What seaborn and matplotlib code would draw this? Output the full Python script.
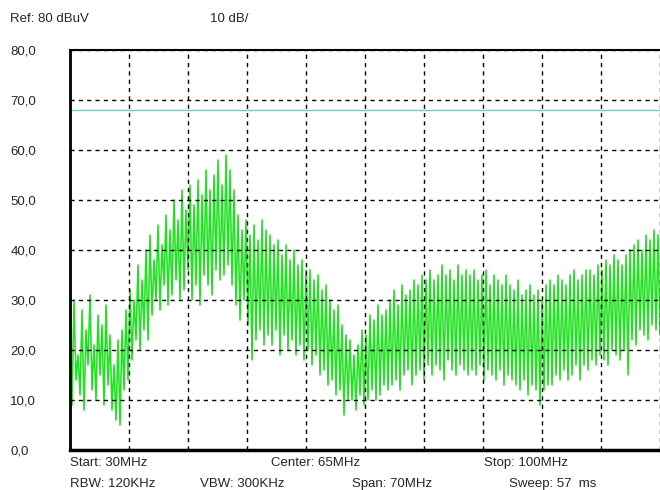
import numpy as np
import pandas as pd
import matplotlib
matplotlib.use("Agg")
import matplotlib.pyplot as plt
import seaborn as sns

# --- DATA (dBuV per sweep point) ---
level_db = [
    # 30 - 34.7 MHz
    22, 9, 30, 14, 19, 11, 28, 8, 24, 17, 31, 12, 21, 10, 27, 15, 25, 9, 29, 13,
    # 34.7 - 39.5 MHz
    23, 8, 17, 6, 22, 5, 24, 12, 28, 14, 32, 18, 30, 22, 37, 20, 34, 24, 40, 22,
    # 39.5 - 44.2 MHz
    43, 27, 38, 30, 45, 28, 41, 33, 47, 29, 44, 31, 50, 34, 46, 30, 52, 32, 48, 36,
    # 44.2 - 49 MHz
    53, 30, 49, 33, 54, 29, 51, 35, 56, 33, 52, 31, 55, 36, 58, 34, 53, 35, 59, 37,
    # 49 - 53.7 MHz
    56, 33, 52, 29, 47, 26, 44, 30, 46, 25, 43, 18, 45, 22, 42, 24, 46, 21, 44, 23,
    # 53.7 - 58.5 MHz
    43, 21, 41, 24, 42, 19, 39, 23, 41, 20, 38, 22, 40, 19, 37, 21, 38, 18, 36, 20,
    # 58.5 - 63.2 MHz
    36, 17, 34, 19, 35, 15, 32, 16, 33, 13, 30, 14, 28, 11, 29, 12, 25, 7, 23, 10,
    # 63.2 - 68 MHz
    22, 10, 19, 8, 21, 11, 24, 9, 23, 10, 27, 12, 26, 10, 29, 11, 27, 13, 28, 12,
    # 68 - 72.7 MHz
    30, 13, 32, 14, 29, 12, 33, 15, 31, 16, 32, 13, 34, 15, 33, 16, 35, 14, 34, 17,
    # 72.7 - 77.5 MHz
    36, 15, 34, 17, 35, 16, 37, 14, 35, 18, 36, 16, 34, 15, 37, 17, 35, 16, 36, 15,
    # 77.5 - 82.2 MHz
    35, 16, 36, 15, 34, 17, 35, 14, 36, 16, 33, 15, 35, 14, 34, 16, 33, 13, 35, 15,
    # 82.2 - 87 MHz
    33, 14, 32, 13, 34, 12, 31, 14, 32, 11, 33, 13, 31, 12, 32, 9, 30, 12, 33, 13,
    # 87 - 91.7 MHz
    34, 13, 33, 15, 35, 14, 34, 16, 33, 14, 35, 15, 36, 17, 34, 14, 35, 17, 36, 16,
    # 91.7 - 96.5 MHz
    36, 18, 35, 17, 37, 19, 36, 18, 38, 17, 37, 20, 39, 19, 38, 18, 37, 20, 39, 15,
    # 96.5 - 100 MHz
    40, 22, 41, 21, 42, 24, 40, 23, 43, 22, 42, 25, 44, 24, 43, 23,
]
limit_db = 68.0
f_start, f_stop = 30, 100
y_ticks = [0, 10, 20, 30, 40, 50, 60, 70, 80]
y_labels = ["0,0", "10,0", "20,0", "30,0", "40,0", "50,0", "60,0", "70,0", "80,0"]

freq = np.linspace(f_start, f_stop, len(level_db))
df = pd.DataFrame({"freq": freq, "level": level_db})

# --- PLOT ---
sns.set_style("white")
plt.rcParams["font.family"] = ["Liberation Sans", "DejaVu Sans"]

W, H = 660, 490
fig = plt.figure(figsize=(W / 100, H / 100), dpi=100)
ax = fig.add_axes([70 / W, 40 / H, 1 - 70 / W, 400 / H])

sns.lineplot(data=df, x="freq", y="level", ax=ax, color="#22e022", linewidth=1.15)
ax.axhline(limit_db, color="#70c8c8", linewidth=1)

ax.set_xlim(f_start, f_stop)
ax.set_ylim(0, 80)
ax.set_xticks(np.arange(f_start, f_stop + 1, 7))
ax.set_xticklabels([])
ax.set_yticks(y_ticks)
ax.set_yticklabels(y_labels, fontsize=9.5, ha="left")
ax.tick_params(axis="both", length=0)
ax.tick_params(axis="y", pad=43)
ax.set_xlabel("")
ax.set_ylabel("")

ax.grid(True, color="black", linestyle=(0, (3, 3)), linewidth=1)
ax.set_axisbelow(False)

for side, lw in [("left", 2), ("bottom", 2.5), ("top", 1.5)]:
    ax.spines[side].set_color("black")
    ax.spines[side].set_linewidth(lw)
ax.spines["right"].set_visible(False)


def put(x, y, s):
    fig.text(x / W, 1 - y / H, s, fontsize=9.5, va="center", ha="left")


put(10, 19, "Ref: 80 dBuV")
put(210, 19, "10 dB/")
put(70, 463, "Start: 30MHz")
put(271, 463, "Center: 65MHz")
put(484, 463, "Stop: 100MHz")
put(70, 484, "RBW: 120KHz")
put(200, 484, "VBW: 300KHz")
put(352, 484, "Span: 70MHz")
put(509, 484, "Sweep: 57  ms")

fig.savefig("out.png", dpi=100)
plt.close(fig)
